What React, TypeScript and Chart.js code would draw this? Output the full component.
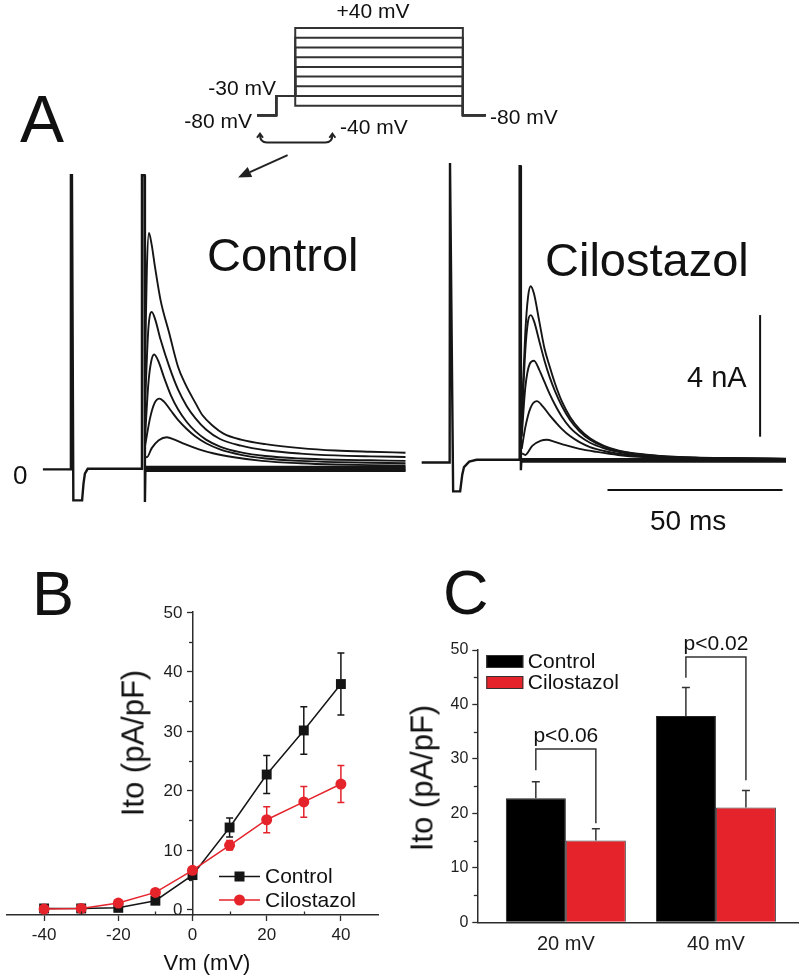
import React, { useEffect, useRef } from 'react';
import { Chart, registerables } from 'chart.js';

Chart.register(...registerables);

const FONT = "'Liberation Sans', Arial, Helvetica, sans-serif";
Chart.defaults.font.family = FONT;
Chart.defaults.color = '#1e1e1e';

const RED = '#e4232b';
const INK = '#151515';
const AXIS = '#2c2c2c';

type Pt = [number, number];

// ---------------- Panel A: voltage protocol (schematic) ----------------
const protocolTimesMs = [0, 10, 20, 108, 120]; // holding, prepulse, test start, test end, end
const holdingPlotMv = -50; // -80 mV holding drawn compressed, as in the schematic
const prepulseMv = -30;
const testStepsMv = [40, 30, 20, 10, 0, -10, -20, -30, -40];
const braceSpanMs = [1.5, 39.5];
const braceLevelsMv = [-70, -78];
const arrowFrom: Pt = [16, -91];
const arrowTo: Pt = [-10, -114];

// ---------------- Panel A: current traces (ms, nA) ----------------
const ctrlCapacitive: Pt[] = [
  [-28.6, 0.02], [-20.7, 0.02], [-20.6, 9.7], [-20.3, 9.7], [-19.9, -1.0], [-17.4, -1.0],
  [-17.0, -0.45], [-16.6, -0.12], [-15.8, 0.04], [-0.35, 0.04], [-0.3, 9.7], [0.45, 9.7],
  [0.55, -1.05], [0.7, 0.1],
];
const ctrlIto40: Pt[] = [
  [0.6, 3.5], [1.1, 6.6], [1.7, 7.8], [2.5, 7.4], [3.4, 6.7], [5, 5.6], [7.5, 4.5], [10, 3.4],
  [12, 2.85], [15, 2.2], [17, 1.8], [20, 1.45], [23, 1.2], [28, 1.0], [35, 0.85], [45, 0.72],
  [55, 0.64], [65, 0.6], [75, 0.57],
];
const ctrlIto30: Pt[] = [
  [0.6, 2.2], [1.5, 4.6], [2.5, 5.2], [3.5, 4.95], [5, 4.3], [7.5, 3.4], [10, 2.65], [12.5, 2.1],
  [15, 1.7], [18, 1.33], [22, 1.02], [28, 0.8], [35, 0.65], [45, 0.54], [55, 0.48], [65, 0.45], [75, 0.43],
];
const ctrlIto20: Pt[] = [
  [0.6, 1.1], [1.5, 2.8], [2.3, 3.55], [3.2, 3.8], [4.5, 3.55], [6, 3.05], [8, 2.45], [10, 2.0],
  [12.5, 1.58], [15, 1.27], [18, 1.0], [22, 0.77], [28, 0.58], [35, 0.46], [45, 0.38], [55, 0.34],
  [65, 0.32], [75, 0.3],
];
const ctrlIto10: Pt[] = [
  [0.6, 0.8], [2, 1.7], [3.3, 2.2], [4.7, 2.35], [6, 2.25], [8, 1.95], [10, 1.65], [12.5, 1.35],
  [15, 1.1], [18, 0.88], [22, 0.68], [28, 0.5], [35, 0.38], [45, 0.3], [55, 0.26], [65, 0.24], [75, 0.22],
];
const ctrlIto0: Pt[] = [
  [0.6, 0.45], [1.1, 0.42], [2.5, 0.72], [4.5, 0.98], [6.8, 1.08], [9, 1.0], [12, 0.85], [16, 0.68],
  [20, 0.55], [26, 0.42], [34, 0.3], [45, 0.22], [55, 0.18], [65, 0.16], [75, 0.15],
];
const ctrlFlat: Pt[][] = [
  [[0.6, 0.1], [75, 0.1]],
  [[0.6, 0.05], [75, 0.05]],
  [[0.6, 0.0], [75, 0.0]],
  [[0.6, -0.03], [75, -0.03]],
];

const ciloCapacitive: Pt[] = [
  [-28.1, -0.05], [-20.1, -0.05], [-20.0, 9.8], [-19.8, 9.8], [-19.1, -1.0], [-17.1, -1.0],
  [-16.5, -0.45], [-16.0, -0.2], [-14.5, -0.02], [-12.4, 0.04], [-0.2, 0.04], [-0.1, 9.7],
  [0.15, 9.7], [0.25, -0.3], [0.4, 0.04],
];
const ciloIto40: Pt[] = [
  [0.5, 1.5], [1.5, 4.2], [2.3, 5.4], [3.05, 5.75], [4, 5.5], [5.5, 4.6], [7, 3.7], [8.5, 3.1],
  [10, 2.55], [12, 1.95], [14.3, 1.45], [17, 1.05], [20, 0.75], [24, 0.5], [28, 0.35], [33, 0.25],
  [40, 0.17], [50, 0.12], [60, 0.1], [76, 0.08],
];
const ciloIto30: Pt[] = [
  [0.5, 1.2], [1.5, 3.6], [2.3, 4.6], [3.1, 4.8], [4, 4.6], [5.5, 3.95], [7, 3.3], [8.5, 2.75],
  [10, 2.3], [12, 1.8], [14.3, 1.35], [17, 0.98], [20, 0.7], [24, 0.47], [28, 0.33], [33, 0.23],
  [40, 0.16], [50, 0.11], [60, 0.09], [76, 0.07],
];
const ciloIto20: Pt[] = [
  [0.5, 0.8], [1.5, 2.4], [2.8, 3.2], [4.0, 3.3], [5.5, 3.0], [7, 2.6], [8.5, 2.2], [10, 1.85],
  [12, 1.45], [14.3, 1.1], [17, 0.82], [20, 0.6], [24, 0.42], [28, 0.3], [33, 0.21], [40, 0.15],
  [50, 0.1], [60, 0.08], [76, 0.07],
];
const ciloIto10: Pt[] = [
  [0.5, 0.4], [1.5, 1.1], [3, 1.75], [4.8, 1.97], [6.5, 1.8], [8.5, 1.5], [10, 1.3], [12, 1.05],
  [14.3, 0.82], [17, 0.62], [20, 0.46], [24, 0.33], [28, 0.24], [33, 0.18], [40, 0.12], [50, 0.09],
  [60, 0.07], [76, 0.06],
];
const ciloIto0: Pt[] = [
  [0.6, 0.25], [1.5, 0.2], [3.5, 0.5], [6, 0.67], [7.6, 0.7], [10, 0.63], [13, 0.52], [17, 0.4],
  [22, 0.3], [28, 0.2], [35, 0.13], [45, 0.08], [60, 0.06], [76, 0.05],
];
const ciloFlat: Pt[][] = [
  [[0.4, 0.06], [76, 0.06]],
  [[0.4, 0.02], [76, 0.02]],
  [[0.4, -0.02], [76, -0.02]],
];
const timeBarMs: Pt[] = [[25, -0.95], [75, -0.95]]; // 50 ms
const currentBarNa: Pt[] = [[68.6, 0.8], [68.6, 4.8]]; // 4 nA

// ---------------- Panel B: I–V relation ----------------
const vmMv = [-40, -30, -20, -10, 0, 10, 20, 30, 40];
const ctrlIto = [0.2, 0.2, 0.3, 1.5, 5.8, 13.8, 22.7, 30.1, 37.9];
const ctrlSem = [0, 0, 0, 0, 0.4, 1.6, 3.2, 4.0, 5.2];
const ciloIto = [0.1, 0.2, 1.1, 2.9, 6.6, 10.8, 15.1, 18.1, 21.1];
const ciloSem = [0, 0, 0, 0.3, 0.4, 0.8, 2.2, 2.6, 3.1];
const ivXTicks = [-40, -20, 0, 20, 40];
const ivXMinor = [-30, -10, 10, 30];
const ivYTicks = [0, 10, 20, 30, 40, 50];
const ivYMinor = [5, 15, 25, 35, 45];

// ---------------- Panel C: bars ----------------
const barCategories = ['20 mV', '40 mV'];
const barCtrl = [22.8, 37.9];
const barCtrlSem = [3.0, 5.2];
const barCilo = [15.0, 21.1];
const barCiloSem = [2.2, 3.1];
const barYTicks = [0, 10, 20, 30, 40, 50];
const barYMinor = [5, 15, 25, 35, 45];
const sigLeftLevels = [27.9, 44.9];
const sigTopLevels = [31.8, 48.7];
const sigRightLevels = [18.2, 26.1];
const sigLabels = ['p<0.06', 'p<0.02'];

const toXY = (pts: Pt[]) => pts.map(([x, y]) => ({ x, y }));

// ---------------- chart configs ----------------
function traceConfig(cap: Pt[], ito: Pt[][], flat: Pt[][], yMin: number, yMax: number, bars: Pt[][]) {
  const datasets: any[] = [];
  datasets.push({ data: toXY(cap), borderColor: INK, borderWidth: 2.4, tension: 0 });
  ito.forEach((t) => datasets.push({ data: toXY(t), borderColor: INK, borderWidth: 1.9, cubicInterpolationMode: 'monotone' }));
  flat.forEach((t) => datasets.push({ data: toXY(t), borderColor: INK, borderWidth: 2.4, tension: 0 }));
  bars.forEach((b) => datasets.push({ data: toXY(b), borderColor: '#111', borderWidth: 2, tension: 0 }));
  return {
    type: 'line',
    data: { datasets },
    options: {
      responsive: false,
      animation: false,
      events: [],
      layout: { padding: 0 },
      elements: { point: { radius: 0 } },
      plugins: { legend: { display: false }, tooltip: { enabled: false } },
      scales: {
        x: { type: 'linear', min: -30, max: 76, display: false },
        y: { type: 'linear', min: yMin, max: yMax, display: false },
      },
    },
  };
}

function protocolConfig() {
  const [t0, t1, t2, t3, t4] = protocolTimesMs;
  const datasets = testStepsMv.map((v) => ({
    data: toXY([
      [t0, holdingPlotMv], [t1, holdingPlotMv], [t1, prepulseMv], [t2, prepulseMv],
      [t2, v], [t3, v], [t3, holdingPlotMv], [t4, holdingPlotMv],
    ]),
    borderColor: '#333',
    borderWidth: 2,
    tension: 0,
  }));
  const decor = {
    id: 'protocolDecor',
    afterDraw(chart: any) {
      const { ctx, scales: { x, y } } = chart;
      ctx.save();
      ctx.strokeStyle = '#222';
      ctx.fillStyle = '#222';
      ctx.lineWidth = 2;
      // brace
      const bx1 = x.getPixelForValue(braceSpanMs[0]);
      const bx2 = x.getPixelForValue(braceSpanMs[1]);
      const byTip = y.getPixelForValue(braceLevelsMv[0]);
      const byLine = y.getPixelForValue(braceLevelsMv[1]);
      ctx.beginPath();
      ctx.moveTo(bx1, byTip);
      ctx.quadraticCurveTo(bx1, byLine, bx1 + 7, byLine);
      ctx.lineTo(bx2 - 7, byLine);
      ctx.quadraticCurveTo(bx2, byLine, bx2, byTip);
      ctx.stroke();
      [bx1, bx2].forEach((bx) => {
        ctx.beginPath();
        ctx.moveTo(bx - 3, byTip + 3);
        ctx.lineTo(bx, byTip - 1);
        ctx.lineTo(bx + 3, byTip + 3);
        ctx.stroke();
      });
      // arrow
      const ax1 = x.getPixelForValue(arrowFrom[0]);
      const ay1 = y.getPixelForValue(arrowFrom[1]);
      const ax2 = x.getPixelForValue(arrowTo[0]);
      const ay2 = y.getPixelForValue(arrowTo[1]);
      const ang = Math.atan2(ay2 - ay1, ax2 - ax1);
      const hl = 13;
      const hw = 5.5;
      const bxh = ax2 - hl * Math.cos(ang);
      const byh = ay2 - hl * Math.sin(ang);
      ctx.beginPath();
      ctx.moveTo(ax1, ay1);
      ctx.lineTo(bxh, byh);
      ctx.stroke();
      ctx.beginPath();
      ctx.moveTo(ax2, ay2);
      ctx.lineTo(bxh + hw * Math.sin(ang), byh - hw * Math.cos(ang));
      ctx.lineTo(bxh - hw * Math.sin(ang), byh + hw * Math.cos(ang));
      ctx.closePath();
      ctx.fill();
      ctx.restore();
    },
  };
  return {
    type: 'line',
    data: { datasets },
    options: {
      responsive: false,
      animation: false,
      events: [],
      layout: { padding: 0 },
      elements: { point: { radius: 0 } },
      plugins: { legend: { display: false }, tooltip: { enabled: false } },
      scales: {
        x: { type: 'linear', min: -30, max: 180, display: false },
        y: { type: 'linear', min: -127, max: 69, display: false },
      },
    },
    plugins: [decor],
  };
}

function ivConfig() {
  const errPlugin = {
    id: 'ivErr',
    beforeDatasetsDraw(chart: any) {
      const { ctx, scales: { y } } = chart;
      ctx.save();
      ctx.lineWidth = 1.5;
      [[ctrlIto, ctrlSem, INK], [ciloIto, ciloSem, RED]].forEach(([vals, sems, col]: any, di) => {
        const meta = chart.getDatasetMeta(di);
        ctx.strokeStyle = col;
        meta.data.forEach((pt: any, i: number) => {
          const e = sems[i];
          if (!e) return;
          const yt = y.getPixelForValue(vals[i] + e);
          const yb = y.getPixelForValue(vals[i] - e);
          ctx.beginPath();
          ctx.moveTo(pt.x, yt);
          ctx.lineTo(pt.x, yb);
          ctx.moveTo(pt.x - 3.5, yt);
          ctx.lineTo(pt.x + 3.5, yt);
          ctx.moveTo(pt.x - 3.5, yb);
          ctx.lineTo(pt.x + 3.5, yb);
          ctx.stroke();
        });
      });
      ctx.restore();
    },
  };
  const extras = {
    id: 'ivExtras',
    afterDraw(chart: any) {
      const { ctx, scales: { x, y }, chartArea } = chart;
      ctx.save();
      ctx.strokeStyle = AXIS;
      ctx.lineWidth = 1.3;
      const ax = x.getPixelForValue(0);
      ivYMinor.forEach((v) => {
        const py = Math.round(y.getPixelForValue(v)) + 0.5;
        ctx.beginPath();
        ctx.moveTo(ax, py);
        ctx.lineTo(ax - 3.5, py);
        ctx.stroke();
      });
      ivXMinor.forEach((v) => {
        const px = Math.round(x.getPixelForValue(v)) + 0.5;
        ctx.beginPath();
        ctx.moveTo(px, chartArea.bottom);
        ctx.lineTo(px, chartArea.bottom - 3.5);
        ctx.stroke();
      });
      // y tick labels, right-aligned left of the centred axis
      ctx.font = `17px ${FONT}`;
      ctx.fillStyle = '#1e1e1e';
      ctx.textAlign = 'right';
      ctx.textBaseline = 'middle';
      ivYTicks.forEach((v) => {
        ctx.fillText(String(v), ax - 10, y.getPixelForValue(v) + 1);
      });
      // legend
      const entries = [
        { label: 'Control', color: INK, circle: false, dy: -38.5 },
        { label: 'Cilostazol', color: RED, circle: true, dy: -15 },
      ];
      ctx.font = `21px ${FONT}`;
      ctx.textAlign = 'left';
      entries.forEach((e) => {
        const cy = chartArea.bottom + e.dy;
        const lx = chartArea.left + 212;
        ctx.strokeStyle = e.color;
        ctx.fillStyle = e.color;
        ctx.lineWidth = 1.5;
        ctx.beginPath();
        ctx.moveTo(lx, cy);
        ctx.lineTo(lx + 41, cy);
        ctx.stroke();
        const mx = lx + 20.5;
        if (e.circle) {
          ctx.beginPath();
          ctx.arc(mx, cy, 5.5, 0, Math.PI * 2);
          ctx.fill();
        } else {
          ctx.fillRect(mx - 5, cy - 5, 10, 10);
        }
        ctx.fillStyle = '#111';
        ctx.fillText(e.label, chartArea.left + 258, cy + 1);
      });
      ctx.restore();
    },
  };
  return {
    type: 'line',
    data: {
      datasets: [
        {
          label: 'Control',
          data: vmMv.map((v, i) => ({ x: v, y: ctrlIto[i] })),
          borderColor: INK,
          backgroundColor: INK,
          borderWidth: 1.5,
          pointStyle: 'rect',
          pointRadius: 7,
          pointBorderWidth: 0,
          tension: 0,
          order: 2,
        },
        {
          label: 'Cilostazol',
          data: vmMv.map((v, i) => ({ x: v, y: ciloIto[i] })),
          borderColor: RED,
          backgroundColor: RED,
          borderWidth: 1.5,
          pointStyle: 'circle',
          pointRadius: 5.5,
          pointBorderWidth: 0,
          tension: 0,
          order: 1,
        },
      ],
    },
    options: {
      responsive: false,
      animation: false,
      events: [],
      layout: { padding: { top: 72, right: 22, left: 0, bottom: 0 } },
      plugins: { legend: { display: false }, tooltip: { enabled: false } },
      scales: {
        x: {
          type: 'linear',
          min: -50,
          max: 50,
          position: 'bottom',
          afterBuildTicks: (s: any) => { s.ticks = ivXTicks.map((v) => ({ value: v })); },
          afterFit: (s: any) => { s.height = 61; },
          grid: { drawOnChartArea: false, tickLength: 6, color: AXIS, tickWidth: 1.3 },
          border: { color: AXIS, width: 1.5 },
          ticks: { font: { size: 17 }, color: '#1e1e1e', padding: 4, maxRotation: 0 },
        },
        y: {
          type: 'linear',
          min: -0.9,
          max: 50,
          position: { x: 0 },
          afterBuildTicks: (s: any) => { s.ticks = ivYTicks.map((v) => ({ value: v })); },
          grid: { drawOnChartArea: false, tickLength: 5, color: AXIS, tickWidth: 1.3 },
          border: { color: AXIS, width: 1.5 },
          ticks: { display: false },
        },
      },
    },
    plugins: [errPlugin, extras],
  };
}

function barConfig() {
  const decor = {
    id: 'barDecor',
    afterDatasetsDraw(chart: any) {
      const { ctx, scales: { y }, chartArea } = chart;
      const m0 = chart.getDatasetMeta(0);
      const m1 = chart.getDatasetMeta(1);
      ctx.save();
      ctx.strokeStyle = '#333';
      ctx.lineWidth = 1.5;
      // error bars (up only)
      [[m0, barCtrl, barCtrlSem], [m1, barCilo, barCiloSem]].forEach(([meta, vals, sems]: any) => {
        meta.data.forEach((bar: any, i: number) => {
          const yt = y.getPixelForValue(vals[i] + sems[i]);
          const yb = y.getPixelForValue(vals[i]);
          ctx.beginPath();
          ctx.moveTo(bar.x, yb);
          ctx.lineTo(bar.x, yt);
          ctx.moveTo(bar.x - 4, yt);
          ctx.lineTo(bar.x + 4, yt);
          ctx.stroke();
        });
      });
      // significance brackets
      ctx.font = `21px ${FONT}`;
      ctx.textAlign = 'center';
      ctx.textBaseline = 'middle';
      ctx.fillStyle = '#111';
      sigLabels.forEach((lab, i) => {
        const xl = m0.data[i].x;
        const xr = m1.data[i].x;
        const yl = y.getPixelForValue(sigLeftLevels[i]);
        const yt = y.getPixelForValue(sigTopLevels[i]);
        const yr = y.getPixelForValue(sigRightLevels[i]);
        ctx.beginPath();
        ctx.moveTo(xl, yl);
        ctx.lineTo(xl, yt);
        ctx.lineTo(xr, yt);
        ctx.lineTo(xr, yr);
        ctx.stroke();
        ctx.fillText(lab, (xl + xr) / 2, yt - 13);
      });
      // minor ticks
      ctx.strokeStyle = AXIS;
      ctx.lineWidth = 1.3;
      barYMinor.forEach((v) => {
        const py = Math.round(y.getPixelForValue(v)) + 0.5;
        ctx.beginPath();
        ctx.moveTo(chartArea.left, py);
        ctx.lineTo(chartArea.left - 3.5, py);
        ctx.stroke();
      });
      // legend
      ctx.textAlign = 'left';
      [
        { label: 'Control', color: '#000', dy: 5 },
        { label: 'Cilostazol', color: RED, dy: 26 },
      ].forEach((e) => {
        const lx = chartArea.left + 9;
        const ty = chartArea.top + e.dy;
        ctx.fillStyle = e.color;
        ctx.fillRect(lx, ty, 37, 13);
        ctx.strokeStyle = '#333';
        ctx.lineWidth = 1;
        ctx.strokeRect(lx + 0.5, ty + 0.5, 36, 12);
        ctx.fillStyle = '#111';
        ctx.fillText(e.label, chartArea.left + 50.5, ty + 7);
      });
      ctx.restore();
    },
  };
  return {
    type: 'bar',
    data: {
      datasets: [
        {
          label: 'Control',
          data: barCtrl.map((v, i) => ({ x: i + 1, y: v })),
          backgroundColor: '#000',
          borderColor: '#222',
          borderWidth: 1,
          categoryPercentage: 0.8,
          barPercentage: 1.0,
        },
        {
          label: 'Cilostazol',
          data: barCilo.map((v, i) => ({ x: i + 1, y: v })),
          backgroundColor: RED,
          borderColor: '#444',
          borderWidth: 1,
          categoryPercentage: 0.8,
          barPercentage: 1.0,
        },
      ],
    },
    options: {
      responsive: false,
      animation: false,
      events: [],
      layout: { padding: { top: 110, right: 2, left: 0, bottom: 0 } },
      plugins: { legend: { display: false }, tooltip: { enabled: false } },
      scales: {
        x: {
          type: 'linear',
          min: 0.41,
          max: 2.547,
          offset: false,
          afterBuildTicks: (s: any) => { s.ticks = barCategories.map((_, i) => ({ value: i + 1 })); },
          afterFit: (s: any) => { s.height = 53.7; },
          grid: { display: false, drawTicks: false },
          border: { display: true, color: AXIS, width: 1.5 },
          ticks: {
            font: { size: 20 },
            color: '#1e1e1e',
            padding: 10,
            maxRotation: 0,
            callback: (v: any) => barCategories[Math.round(v) - 1] ?? '',
          },
        },
        y: {
          type: 'linear',
          min: 0,
          max: 50,
          position: 'left',
          afterBuildTicks: (s: any) => { s.ticks = barYTicks.map((v) => ({ value: v })); },
          afterFit: (s: any) => { s.width = 77.3; },
          grid: { drawOnChartArea: false, tickLength: 5, color: AXIS, tickWidth: 1.3 },
          border: { color: AXIS, width: 1.5 },
          ticks: { font: { size: 16 }, color: '#1e1e1e', padding: 4 },
        },
      },
    },
    plugins: [decor],
  };
}

// ---------------- components ----------------
function ChartCanvas({ left, top, width, height, make }: { left: number; top: number; width: number; height: number; make: () => any }) {
  const ref = useRef<HTMLCanvasElement>(null);
  useEffect(() => {
    const chart = new Chart(ref.current as HTMLCanvasElement, make());
    return () => chart.destroy();
  }, []);
  return (
    <canvas
      ref={ref}
      width={width}
      height={height}
      style={{ position: 'absolute', left, top, width, height }}
    />
  );
}

function Label({ x, y, size, text, anchor = 'left', rotate = false }: { x: number; y: number; size: number; text: string; anchor?: 'left' | 'center' | 'right'; rotate?: boolean }) {
  const tx = anchor === 'left' ? '0' : anchor === 'center' ? '-50%' : '-100%';
  return (
    <div
      style={{
        position: 'absolute',
        left: x,
        top: y,
        fontFamily: FONT,
        fontSize: size,
        lineHeight: 1,
        whiteSpace: 'nowrap',
        color: '#111',
        transform: rotate ? 'translate(-50%, -50%) rotate(-90deg)' : `translate(${tx}, -50%)`,
      }}
    >
      {text}
    </div>
  );
}

export default function App() {
  return (
    <div style={{ position: 'absolute', left: 0, top: 0, width: 800, height: 976, background: '#fff', overflow: 'hidden' }}>
      <ChartCanvas left={200} top={0} width={400} height={190} make={protocolConfig} />
      <ChartCanvas
        left={38}
        top={150}
        width={371}
        height={370}
        make={() => traceConfig(ctrlCapacitive, [ctrlIto40, ctrlIto30, ctrlIto20, ctrlIto10, ctrlIto0], ctrlFlat, -1.645, 10.53, [])}
      />
      <ChartCanvas
        left={415}
        top={150}
        width={371}
        height={370}
        make={() => traceConfig(ciloCapacitive, [ciloIto40, ciloIto30, ciloIto20, ciloIto10, ciloIto0], ciloFlat, -1.94, 10.23, [timeBarMs, currentBarNa])}
      />
      <ChartCanvas left={0} top={540} width={400} height={436} make={ivConfig} />
      <ChartCanvas left={400} top={540} width={400} height={436} make={barConfig} />

      <Label x={20} y={119} size={66} text="A" />
      <Label x={373} y={9.5} size={21} text="+40 mV" anchor="center" />
      <Label x={276} y={87} size={21} text="-30 mV" anchor="right" />
      <Label x={252} y={120} size={21} text="-80 mV" anchor="right" />
      <Label x={340} y={126} size={21} text="-40 mV" />
      <Label x={490} y={116} size={21} text="-80 mV" />
      <Label x={207} y={254} size={47} text="Control" />
      <Label x={545} y={259} size={47} text="Cilostazol" />
      <Label x={687} y={376.5} size={29} text="4 nA" />
      <Label x={650} y={521} size={28} text="50 ms" />
      <Label x={13} y={475} size={26} text="0" />

      <Label x={32} y={592.5} size={63} text="B" />
      <Label x={133} y={743} size={31} text="Ito (pA/pF)" rotate />
      <Label x={207} y={963} size={22} text="Vm (mV)" anchor="center" />

      <Label x={443} y={591.5} size={63} text="C" />
      <Label x={421.7} y={778} size={31} text="Ito (pA/pF)" rotate />
    </div>
  );
}
